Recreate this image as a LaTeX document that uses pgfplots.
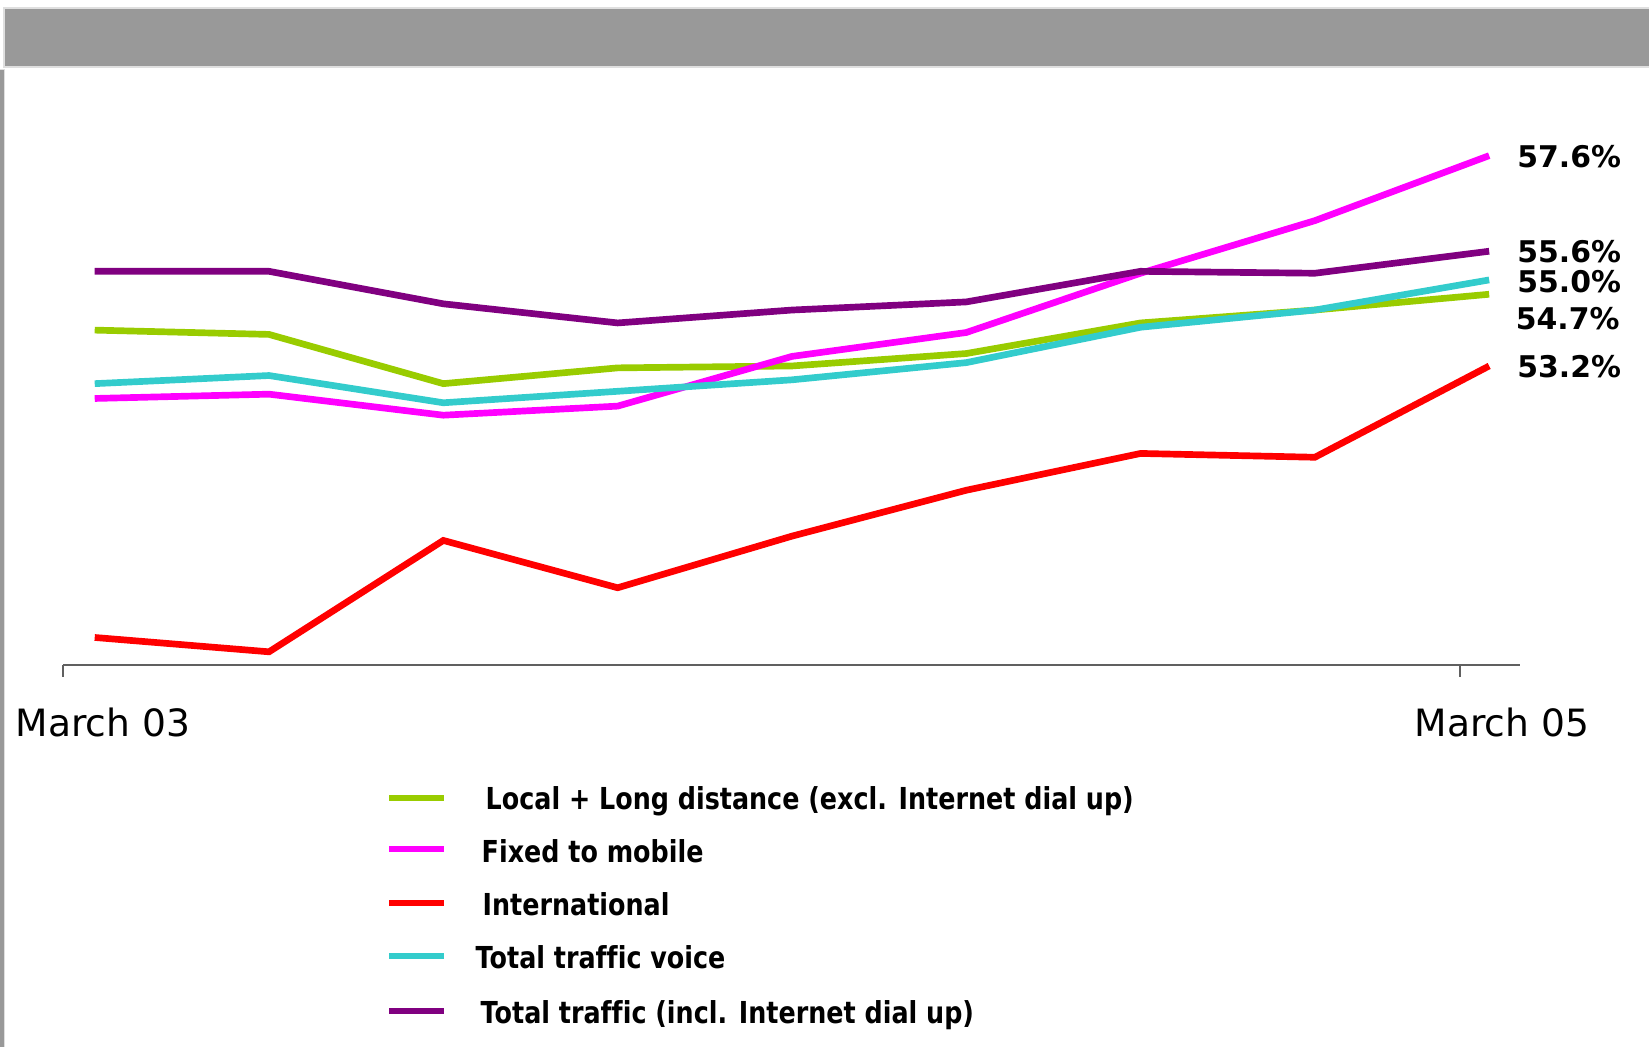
\documentclass[border=0pt]{standalone}
\usepackage{pgfplots}
\pgfplotsset{compat=1.18}
\usepackage{fontspec}
\setmainfont{DejaVu Sans}
\newfontfamily\legfont[FakeStretch=0.84, Ligatures={NoCommon}]{DejaVu Sans}

\definecolor{lgreen}{HTML}{99CC00}
\definecolor{lmagenta}{HTML}{FF00FF}
\definecolor{lred}{HTML}{FF0000}
\definecolor{lcyan}{HTML}{33CCCC}
\definecolor{lpurple}{HTML}{800080}
\definecolor{barg}{HTML}{999999}
\definecolor{axisg}{HTML}{606060}

% index 0..8 between March 03 and March 05
\pgfplotstableread{
x  y
0  53.95
1  53.86
2  52.83
3  53.16
4  53.20
5  53.46
6  54.10
7  54.37
8  54.70
}\localtab
\pgfplotstableread{
x  y
0  52.52
1  52.61
2  52.17
3  52.36
4  53.40
5  53.90
6  55.14
7  56.24
8  57.60
}\mobiletab
\pgfplotstableread{
x  y
0  47.52
1  47.22
2  49.55
3  48.56
4  49.64
5  50.60
6  51.37
7  51.29
8  53.20
}\intltab
\pgfplotstableread{
x  y
0  52.83
1  53.00
2  52.43
3  52.67
4  52.91
5  53.27
6  54.01
7  54.37
8  55.00
}\voicetab
\pgfplotstableread{
x  y
0  55.18
1  55.18
2  54.50
3  54.10
4  54.37
5  54.54
6  55.18
7  55.14
8  55.60
}\totaltab

\begin{document}
\begin{tikzpicture}
\path[use as bounding box] (0,0) rectangle (16.49,-10.47);
% header bar and left rule
\fill[gray!25] (0.03,-0.07) rectangle (16.49,-0.68);
\fill[barg] (0.05,-0.09) rectangle (16.49,-0.66);
\fill[gray!25] (0,-0.69) rectangle (0.055,-10.47);
\fill[barg] (0,-0.70) rectangle (0.04,-10.47);

\begin{axis}[
    at={(0.63cm,-6.647cm)}, anchor=south west,
    scale only axis,
    width=14.57cm, height=5.521cm,
    xmin=-0.182, xmax=8.177,
    ymin=46.95, ymax=58.5,
    axis x line*=bottom,
    axis y line=none,
    x axis line style={draw=axisg, line width=0.5pt},
    xtick={-0.182,7.833},
    xticklabels={},
    ytick=\empty,
    xtick align=outside,
    major tick length=0.12cm,
    tick style={draw=axisg, line width=0.5pt},
    clip=false,
    every axis plot/.append style={line width=1.9pt, no markers},
]
\addplot[lgreen]   table {\localtab};
\addplot[lmagenta] table {\mobiletab};
\addplot[lred]     table {\intltab};
\addplot[lcyan]    table {\voicetab};
\addplot[lpurple]  table {\totaltab};

\begin{scope}[every node/.style={anchor=west, font=\bfseries\fontsize{8.5}{10}\selectfont, inner sep=0pt}]
\node[xshift=0.275cm] at (axis cs:8,57.58) {57.6\%};
\node[xshift=0.275cm] at (axis cs:8,55.59) {55.6\%};
\node[xshift=0.275cm] at (axis cs:8,54.96) {55.0\%};
\node[xshift=0.26cm]  at (axis cs:8,54.20) {54.7\%};
\node[xshift=0.275cm] at (axis cs:8,53.18) {53.2\%};
\end{scope}
\end{axis}

% category labels
\node[anchor=base west, inner sep=0pt, font=\fontsize{10.7}{12}\selectfont] at (0.15,-7.36) {March 03};
\node[anchor=base west, inner sep=0pt, font=\fontsize{10.7}{12}\selectfont] at (14.14,-7.36) {March 05};

% legend
\begin{scope}[every node/.style={anchor=base west, inner sep=0pt, font=\legfont\bfseries\fontsize{8.6}{10}\selectfont}]
\draw[lgreen, line width=1.7pt]   (3.89,-7.98)  -- (4.44,-7.98);
\draw[lmagenta, line width=1.7pt] (3.89,-8.49)  -- (4.44,-8.49);
\draw[lred, line width=1.7pt]     (3.89,-9.03)  -- (4.44,-9.03);
\draw[lcyan, line width=1.7pt]    (3.89,-9.56)  -- (4.44,-9.56);
\draw[lpurple, line width=1.7pt]  (3.89,-10.11) -- (4.44,-10.11);
\node at (4.85,-8.09)  {Local + Long distance (excl. Internet dial up)};
\node at (4.81,-8.62)  {Fixed to mobile};
\node at (4.82,-9.15)  {International};
\node at (4.75,-9.68)  {Total traffic voice};
\node at (4.80,-10.23) {Total traffic (incl. Internet dial up)};
\end{scope}
\end{tikzpicture}
\end{document}
